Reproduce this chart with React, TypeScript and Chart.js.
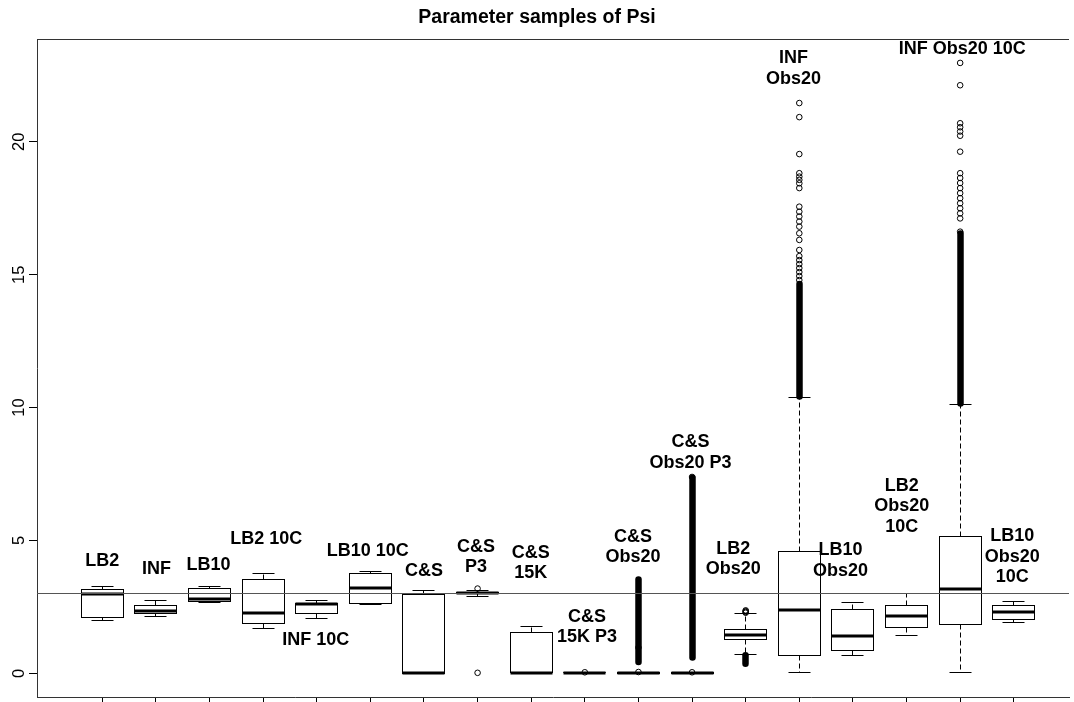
import React, { useEffect, useRef } from "react";
import { Chart, registerables } from "chart.js";

Chart.register(...registerables);

// Model variants, one box each (lines of the label drawn above the box)
const categories: string[][] = [
  ["LB2"],
  ["INF"],
  ["LB10"],
  ["LB2 10C"],
  ["INF 10C"],
  ["LB10 10C"],
  ["C&S"],
  ["C&S", "P3"],
  ["C&S", "15K"],
  ["C&S", "15K P3"],
  ["C&S", "Obs20"],
  ["C&S", "Obs20 P3"],
  ["LB2", "Obs20"],
  ["INF", "Obs20"],
  ["LB10", "Obs20"],
  ["LB2", "Obs20", "10C"],
  ["INF Obs20 10C"],
  ["LB10", "Obs20", "10C"],
];

// Five-number summaries of the Psi samples
const lowerWhisker = [1.97, 2.13, 2.67, 1.68, 2.06, 2.59, 0.0, 2.9, 0.02, 0.015, 0.0, 0.0, 0.7, 0.03, 0.68, 1.42, 0.03, 1.91];
const lowerQuartile = [2.1, 2.27, 2.7, 1.87, 2.27, 2.62, 0.01, 2.99, 0.03, 0.02, 0.01, 0.01, 1.28, 0.68, 0.87, 1.73, 1.83, 2.03];
const medians = [3.0, 2.34, 2.81, 2.27, 2.6, 3.23, 0.01, 3.02, 0.03, 0.025, 0.015, 0.015, 1.46, 2.37, 1.42, 2.14, 3.19, 2.32];
const upperQuartile = [3.16, 2.57, 3.18, 3.55, 2.62, 3.75, 2.96, 3.04, 1.54, 0.03, 0.02, 0.02, 1.66, 4.57, 2.4, 2.54, 5.14, 2.54];
const upperWhisker = [3.25, 2.74, 3.25, 3.74, 2.74, 3.82, 3.11, 3.13, 1.78, 0.035, 0.03, 0.03, 2.25, 10.38, 2.65, 3.0, 10.12, 2.71];

// Individually visible outliers per box
const outliers: number[][] = [
  [],
  [],
  [],
  [],
  [],
  [],
  [],
  [3.19, 0.02],
  [],
  [0.04],
  [0.05, 0.97],
  [0.04, 7.39],
  [2.28, 2.31, 2.34, 2.37],
  [14.8, 14.95, 15.1, 15.25, 15.4, 15.55, 15.7, 15.93, 16.31, 16.56, 16.81, 17.0, 17.19, 17.37, 17.56, 18.26, 18.44, 18.57, 18.69, 18.82, 19.54, 20.93, 21.46],
  [],
  [],
  [16.62, 17.12, 17.31, 17.5, 17.69, 17.88, 18.07, 18.26, 18.45, 18.64, 18.82, 19.63, 20.23, 20.39, 20.55, 20.7, 22.13, 22.97],
  [],
];

// Runs of outliers so dense that the circles merge into a solid column: [from, to]
const denseOutlierRuns: number[][][] = [
  [], [], [], [], [], [], [], [], [], [],
  [[0.43, 3.53]],
  [[0.6, 7.36]],
  [[0.36, 0.68]],
  [[10.42, 14.65]],
  [], [],
  [[10.15, 16.55]],
  [],
];

// Label anchors: x in box units, y in data units (centre of the first line)
const labelX = [1.0, 2.01, 2.98, 4.06, 4.98, 5.95, 7.0, 7.97, 8.99, 10.04, 10.9, 11.97, 12.77, 13.89, 14.77, 15.91, 17.04, 17.97];
const labelY = [4.23, 3.92, 4.08, 5.05, 1.25, 4.6, 3.85, 4.77, 4.53, 2.12, 5.14, 8.7, 4.68, 23.15, 4.64, 7.05, 23.49, 5.16];

const yTicks = [0, 5, 10, 15, 20];
const referenceLevel = 3;
const titleText = "Parameter samples of Psi";

const FONT = "'Liberation Sans', Arial, Helvetica, sans-serif";
const BOX_WIDTH = 0.8;
const LINE_GAP = 20.5;

const crisp = (v: number) => Math.round(v - 0.5) + 0.5;

const boxPlugin = {
  id: "boxplotMarks",
  beforeDatasetsDraw(chart: any) {
    const { ctx, scales } = chart;
    const xs = scales.x;
    const ys = scales.y;
    ctx.save();
    ctx.strokeStyle = "#000";
    ctx.lineCap = "butt";
    const seg = (x1: number, y1: number, x2: number, y2: number) => {
      ctx.beginPath();
      ctx.moveTo(x1, y1);
      ctx.lineTo(x2, y2);
      ctx.stroke();
    };
    categories.forEach((_, i) => {
      const pos = i + 1;
      const xc = crisp(xs.getPixelForValue(pos));
      const hw = Math.round(xs.getPixelForValue(pos + BOX_WIDTH / 2) - xs.getPixelForValue(pos));
      const capHw = Math.round(hw / 2);
      const lo = crisp(ys.getPixelForValue(lowerWhisker[i]));
      const q1 = crisp(ys.getPixelForValue(lowerQuartile[i]));
      const md = ys.getPixelForValue(medians[i]);
      const q3 = crisp(ys.getPixelForValue(upperQuartile[i]));
      const hi = crisp(ys.getPixelForValue(upperWhisker[i]));

      ctx.lineWidth = 1;
      ctx.setLineDash([5, 3]);
      if (hi < q3) seg(xc, q3, xc, hi);
      if (lo > q1) seg(xc, q1, xc, lo);
      ctx.setLineDash([]);
      seg(xc - capHw, hi, xc + capHw, hi);
      seg(xc - capHw, lo, xc + capHw, lo);
      ctx.strokeRect(xc - hw, q3, 2 * hw, Math.max(q1 - q3, 0));
      ctx.lineWidth = 3;
      seg(xc - hw, Math.round(md), xc + hw, Math.round(md));

      // merged outlier columns
      ctx.lineWidth = 6.5;
      ctx.lineCap = "round";
      denseOutlierRuns[i].forEach(([a, b]) => {
        seg(xc, ys.getPixelForValue(a), xc, ys.getPixelForValue(b));
      });
      ctx.lineCap = "butt";
    });
    ctx.restore();
  },
  afterDatasetsDraw(chart: any) {
    const { ctx, scales, chartArea } = chart;
    const xs = scales.x;
    const ys = scales.y;
    ctx.save();

    // reference level
    const yr = crisp(ys.getPixelForValue(referenceLevel));
    ctx.strokeStyle = "#555";
    ctx.lineWidth = 1;
    ctx.beginPath();
    ctx.moveTo(chartArea.left, yr);
    ctx.lineTo(chartArea.right, yr);
    ctx.stroke();

    // top edge of the plot frame
    ctx.strokeStyle = "#333";
    ctx.beginPath();
    ctx.moveTo(chartArea.left, crisp(chartArea.top));
    ctx.lineTo(chartArea.right, crisp(chartArea.top));
    ctx.stroke();

    // group labels
    ctx.fillStyle = "#000";
    ctx.font = `bold 18px ${FONT}`;
    ctx.textAlign = "center";
    ctx.textBaseline = "middle";
    categories.forEach((lines, i) => {
      const px = xs.getPixelForValue(labelX[i]);
      const py = ys.getPixelForValue(labelY[i]);
      lines.forEach((t, k) => ctx.fillText(t, px, py + k * LINE_GAP));
    });

    // y tick labels, rotated as in base graphics
    ctx.font = `16.5px ${FONT}`;
    ctx.textBaseline = "alphabetic";
    yTicks.forEach((v) => {
      const py = ys.getPixelForValue(v);
      ctx.save();
      ctx.translate(chartArea.left - 13, py);
      ctx.rotate(-Math.PI / 2);
      ctx.fillText(String(v), 0, 0);
      ctx.restore();
    });

    // title
    ctx.font = `bold 19.5px ${FONT}`;
    ctx.textBaseline = "alphabetic";
    ctx.fillText(titleText, 537, 23);
    ctx.restore();
  },
};

export default function App() {
  const canvasRef = useRef<HTMLCanvasElement | null>(null);

  useEffect(() => {
    const canvas = canvasRef.current;
    if (!canvas) return;
    const points = outliers.flatMap((vals, i) => vals.map((v) => ({ x: i + 1, y: v })));
    const chart = new Chart(canvas, {
      type: "scatter",
      data: {
        datasets: [
          {
            data: points,
            pointRadius: 2.8,
            pointBorderWidth: 1,
            borderColor: "#000",
            backgroundColor: "rgba(0,0,0,0)",
          },
        ],
      },
      options: {
        animation: false,
        responsive: false,
        devicePixelRatio: 1,
        events: [],
        layout: { padding: { top: 39, left: 0, right: 0, bottom: 0 } },
        plugins: {
          legend: { display: false },
          title: { display: false },
          tooltip: { enabled: false },
        },
        scales: {
          x: {
            type: "linear",
            min: -0.217,
            max: 19.03,
            grid: { drawOnChartArea: false, drawTicks: true, tickLength: 8, color: "#000" },
            border: { display: true, color: "#333" },
            ticks: { display: false },
            afterBuildTicks: (s: any) => {
              s.ticks = categories.map((_, i) => ({ value: i + 1 }));
            },
            afterFit: (s: any) => {
              s.height = 5;
            },
          },
          y: {
            type: "linear",
            min: -0.89,
            max: 23.87,
            grid: { drawOnChartArea: false, drawTicks: true, tickLength: 8, color: "#000" },
            border: { display: true, color: "#333" },
            ticks: { display: false },
            afterBuildTicks: (s: any) => {
              s.ticks = yTicks.map((v) => ({ value: v }));
            },
            afterFit: (s: any) => {
              s.width = 37;
            },
          },
        },
      },
      plugins: [boxPlugin],
    });
    return () => chart.destroy();
  }, []);

  return (
    <div style={{ position: "fixed", left: 0, top: 0, width: 1074, height: 702, background: "#fff" }}>
      <canvas ref={canvasRef} width={1074} height={702} style={{ display: "block" }} />
    </div>
  );
}
